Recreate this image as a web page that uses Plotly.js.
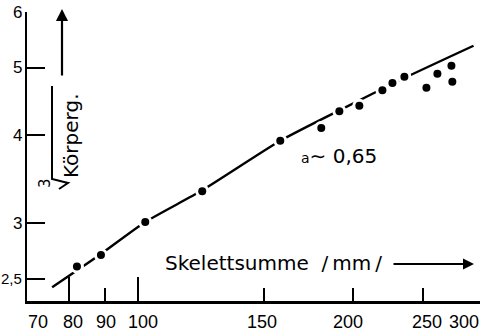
<!DOCTYPE html>
<html>
<head>
<meta charset="utf-8">
<script src="https://cdn.plot.ly/plotly-3.0.1.min.js"></script>
<style>
  html, body { margin: 0; padding: 0; background: #ffffff; }
  #chart { width: 486px; height: 332px; }
</style>
</head>
<body>
<div id="chart"></div>
<script>
// Skeletal sum (mm) against the cube root of body weight, log-log
var skelettSumme = [82.2, 88.8, 102.4, 123.0, 158.1, 180.4, 191.2, 203.9, 219.6, 226.8, 235.7, 253.0, 262.1, 274.2, 275.0];
var koerpergWurzel = [2.60, 2.70, 3.01, 3.33, 3.93, 4.10, 4.33, 4.41, 4.64, 4.75, 4.85, 4.68, 4.90, 5.03, 4.77];

// fitted curve (slope a ~ 0.65)
var kurveX = [75.9, 88.8, 102.4, 123.0, 158.1, 191.8, 235.7, 294.4];
var kurveY = [2.43, 2.71, 3.01, 3.34, 3.93, 4.35, 4.83, 5.37];

// axis ticks
var xTickVals = [70, 80, 90, 100, 150, 200, 250, 300];
var xTickText = ["70", "80", "90", "100", "150", "200", "250", "300"];
var xLongTicks = [80, 100, 300];
var yTickVals = [2.5, 3, 4, 5, 6];
var yTickText = ["2,5", "3", "4", "5", "6"];

// plot-area geometry in pixels
var L = 27, R = 6, T = 12, B = 31, W = 486, H = 332;
var pw = W - L - R, ph = H - T - B;
function X(px) { return (px - L) / pw; }
function Y(py) { return (H - B - py) / ph; }

var xLabelShift = [11, 4, 1, 5, -2, -5, 4, -15];

var traces = [
  {
    x: kurveX, y: kurveY, mode: 'lines', type: 'scatter',
    line: { color: '#000', width: 2.4, shape: 'spline', smoothing: 0.6 },
    hoverinfo: 'skip'
  },
  {
    x: skelettSumme, y: koerpergWurzel, mode: 'markers', type: 'scatter',
    marker: { color: '#fff', size: 14 },
    hoverinfo: 'skip'
  },
  {
    x: skelettSumme, y: koerpergWurzel, mode: 'markers', type: 'scatter',
    marker: { color: '#000', size: 8 }
  }
];

var annotations = [];
xTickVals.forEach(function (v, i) {
  annotations.push({
    x: Math.log10(v), xref: 'x', y: 0, yref: 'paper',
    yanchor: 'top', xanchor: 'center', yshift: -9, xshift: xLabelShift[i],
    text: xTickText[i], showarrow: false,
    font: { family: 'Liberation Sans, Arial, sans-serif', size: 18, color: '#000' }
  });
});

// y tick labels, right-aligned just left of the axis
yTickVals.forEach(function (v, i) {
  annotations.push({
    x: 0, xref: 'paper', y: Math.log10(v), yref: 'y',
    xanchor: 'right', yanchor: 'middle', xshift: -3,
    text: yTickText[i], showarrow: false,
    font: { family: 'Liberation Sans, Arial, sans-serif', size: yTickText[i].length > 1 ? 15 : 17, color: '#000' }
  });
});

// x-axis caption and arrow
annotations.push({
  x: X(163), y: Y(263), xref: 'paper', yref: 'paper', xanchor: 'left', yanchor: 'middle',
  text: 'Skelettsumme\u00a0\u00a0/\u2009mm\u2009/', showarrow: false,
  font: { family: 'DejaVu Sans, sans-serif', size: 20, color: '#000' }
});
annotations.push({
  x: X(474), y: Y(264), xref: 'paper', yref: 'paper', text: '',
  showarrow: true, arrowhead: 2, arrowsize: 1.1, arrowwidth: 2, arrowcolor: '#000',
  ax: -82, ay: 0
});

// y-axis caption: cube root of body weight, with upward arrow
annotations.push({
  x: X(71), y: Y(136), xref: 'paper', yref: 'paper', xanchor: 'center', yanchor: 'middle',
  text: 'Körperg.', textangle: -90, showarrow: false,
  font: { family: 'DejaVu Sans, sans-serif', size: 20, color: '#000' }
});
annotations.push({
  x: X(45), y: Y(183), xref: 'paper', yref: 'paper', xanchor: 'center', yanchor: 'middle',
  text: '3', textangle: -90, showarrow: false,
  font: { family: 'DejaVu Sans, sans-serif', size: 15, color: '#000' }
});
annotations.push({
  x: X(62), y: Y(9), xref: 'paper', yref: 'paper', text: '',
  showarrow: true, arrowhead: 2, arrowsize: 1.1, arrowwidth: 2.2, arrowcolor: '#000',
  ax: 0, ay: 68
});

// slope annotation
annotations.push({
  x: X(299), y: Y(156), xref: 'paper', yref: 'paper', xanchor: 'left', yanchor: 'middle',
  text: '<span style="font-size:14px">a</span>\u223c 0,65', showarrow: false,
  font: { family: 'DejaVu Sans, sans-serif', size: 20, color: '#000' }
});

// radical sign for the cube root (rotated with the caption)
var radical = 'M ' + X(52) + ',' + Y(86) + ' L ' + X(52) + ',' + Y(179) +
              ' L ' + X(68) + ',' + Y(183) + ' L ' + X(59) + ',' + Y(189);

var layout = {
  width: W, height: H,
  margin: { l: L, r: R, t: T, b: B, pad: 0 },
  paper_bgcolor: '#fff', plot_bgcolor: '#fff',
  showlegend: false,
  xaxis: {
    type: 'log', range: [Math.log10(70), Math.log10(300.6)],
    tickmode: 'array', tickvals: xTickVals, showticklabels: false,
    ticks: 'inside', ticklen: 13, tickwidth: 2, tickcolor: '#000',
    minor: { tickmode: 'array', tickvals: xLongTicks, ticks: 'inside', ticklen: 24, tickwidth: 2, tickcolor: '#000', showgrid: false },
    showline: true, linecolor: '#000', linewidth: 2.5,
    showgrid: false, zeroline: false, fixedrange: true
  },
  yaxis: {
    type: 'log', range: [Math.log10(2.322), Math.log10(6)],
    tickmode: 'array', tickvals: yTickVals, showticklabels: false,
    ticks: 'inside', ticklen: 18, tickwidth: 2, tickcolor: '#000',
    showline: true, linecolor: '#000', linewidth: 2.5,
    showgrid: false, zeroline: false, fixedrange: true
  },
  annotations: annotations,
  shapes: [{
    type: 'path', xref: 'paper', yref: 'paper', path: radical,
    line: { color: '#000', width: 2 }
  }]
};

Plotly.newPlot('chart', traces, layout, { staticPlot: true, displayModeBar: false });
</script>
</body>
</html>
